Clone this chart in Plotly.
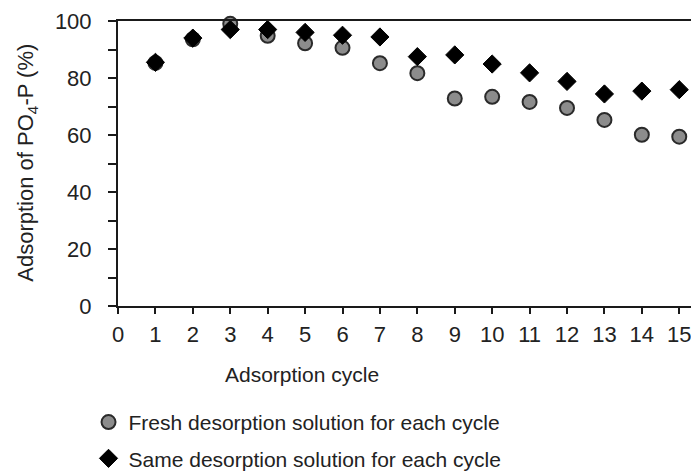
import plotly.graph_objects as go

cycles = list(range(1, 16))
fresh = [85.3, 93.6, 99.0, 94.8, 92.2, 90.6, 85.2, 81.7, 72.8, 73.4, 71.6, 69.5, 65.3, 60.1, 59.4]
same = [85.5, 94.0, 97.0, 97.0, 96.0, 95.0, 94.4, 87.5, 88.1, 84.9, 81.8, 78.8, 74.4, 75.4, 75.9]
fresh_name = "Fresh desorption solution for each cycle"
same_name = "Same desorption solution for each cycle"
x_title = "Adsorption cycle"
y_title = "Adsorption of PO<sub>4</sub>-P (%)"

W, H = 691, 476
L, R, T, B = 117.5, 0, 20.7, 170
pw = W - L - R
ph = H - T - B
FONT = "Liberation Sans, Arial, sans-serif"
TXT = "#222222"

fig = go.Figure()
fig.add_trace(go.Scatter(
    x=cycles, y=fresh, mode="markers", name=fresh_name, legendgroup="a",
    cliponaxis=False,
    marker=dict(symbol="circle", size=14, color="#8c8c8c", line=dict(color="#2a2a2a", width=2)),
))
fig.add_trace(go.Scatter(
    x=cycles, y=same, mode="markers", name=same_name, legendgroup="b",
    cliponaxis=False,
    marker=dict(symbol="diamond", size=14, color="#000000", line=dict(color="#000000", width=1)),
))

def px_x(p):
    return (p - L) / pw

def px_y(p):
    return (H - B - p) / ph

fig.update_layout(
    width=W, height=H,
    margin=dict(l=L, r=R, t=T, b=B, pad=0, autoexpand=False),
    paper_bgcolor="white", plot_bgcolor="white",
    font=dict(family=FONT, size=21, color=TXT),
    showlegend=True,
    legend=dict(
        x=px_x(88), y=px_y(402), xanchor="left", yanchor="top",
        orientation="v", tracegroupgap=6, itemwidth=30,
        font=dict(family=FONT, size=21, color=TXT),
        bgcolor="rgba(0,0,0,0)",
    ),
    xaxis=dict(
        range=[0, pw / 37.45], tickmode="array", tickvals=list(range(0, 16)),
        showgrid=False, zeroline=False, showline=True, linecolor="#1a1a1a", linewidth=2,
        mirror=True, ticks="outside", ticklen=6, tickwidth=2, tickcolor="#1a1a1a",
        ticklabelstandoff=2, ticklabeloverflow="allow", automargin=False,
        tickfont=dict(family=FONT, size=22, color=TXT),
    ),
    yaxis=dict(
        range=[0, 100], tickmode="linear", tick0=0, dtick=20,
        showgrid=False, zeroline=False, showline=True, linecolor="#1a1a1a", linewidth=2,
        ticks="outside", ticklen=8, tickwidth=2, tickcolor="#1a1a1a",
        ticklabelstandoff=12, automargin=False, tickfont=dict(family=FONT, size=22, color=TXT),
        minor=dict(dtick=10, tick0=0, ticks="outside", ticklen=8, tickwidth=2, tickcolor="#1a1a1a", showgrid=False),
    ),
    annotations=[
        dict(text=x_title, xref="paper", yref="paper", x=px_x(302), y=px_y(375),
             xanchor="center", yanchor="middle", showarrow=False,
             font=dict(family=FONT, size=21, color=TXT)),
        dict(text=y_title, xref="paper", yref="paper", x=px_x(27), y=px_y(163),
             xanchor="center", yanchor="middle", showarrow=False, textangle=-90,
             font=dict(family=FONT, size=22, color=TXT)),
    ],
)

fig.write_html("out.html")
